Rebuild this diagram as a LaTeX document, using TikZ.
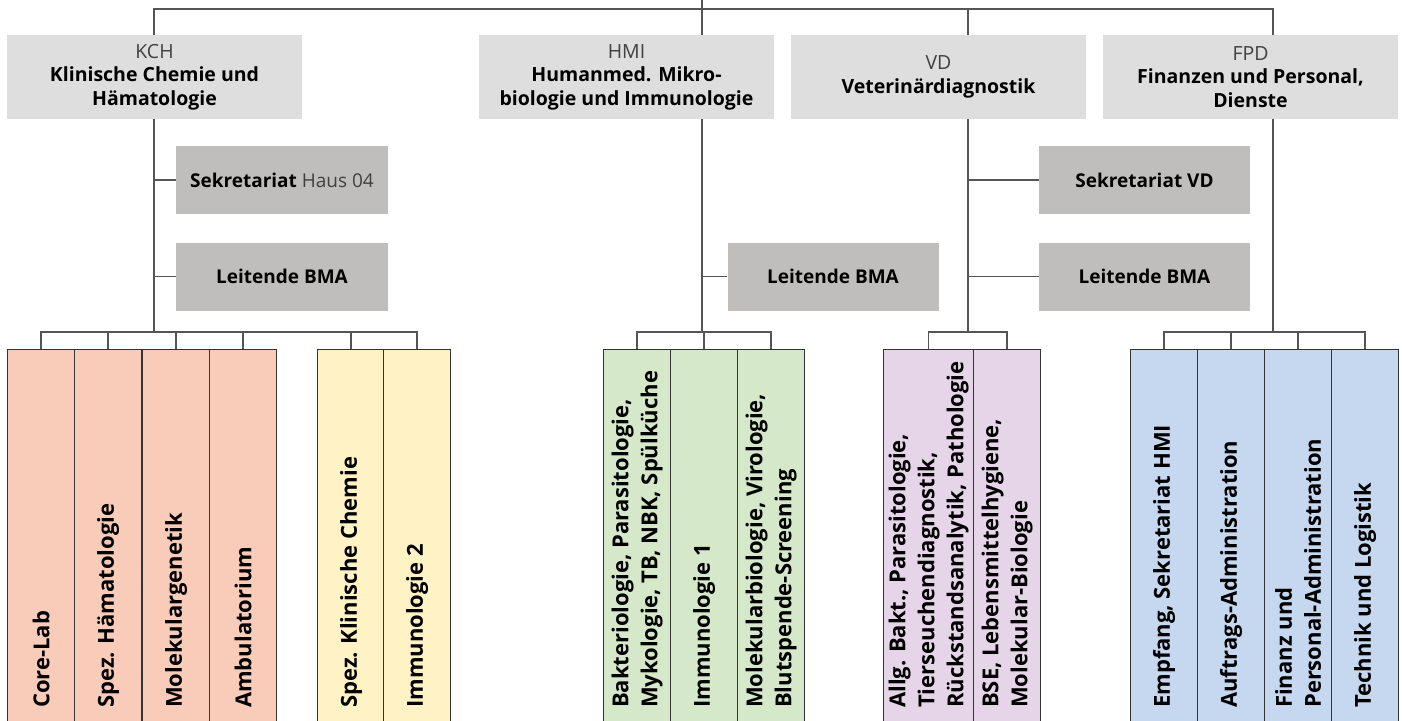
\documentclass[tikz,border=0pt]{standalone}
\usepackage{fontspec}
\setmainfont{Open Sans}
\usetikzlibrary{backgrounds}

\definecolor{headgray}{HTML}{DEDEDE}
\definecolor{staffgray}{HTML}{BFBEBC}
\definecolor{linegray}{HTML}{555555}
\definecolor{kchred}{HTML}{F9CCBA}
\definecolor{kchyellow}{HTML}{FFF2C5}
\definecolor{hmigreen}{HTML}{D5E8CA}
\definecolor{vdviolet}{HTML}{E6D5E8}
\definecolor{fpdblue}{HTML}{C5D8EF}

\tikzset{
    head/.style={fill=headgray, minimum width=295pt, minimum height=84pt, inner sep=0pt,
        align=center, font=\fontsize{19.5}{23.5}\selectfont},
    staff/.style={fill=staffgray, minimum width=212pt, minimum height=68pt, inner sep=0pt,
        font=\fontsize{19}{23}\selectfont},
    unit/.style={draw=black!80, line width=1.2pt, fill=#1, minimum width=67pt,
        minimum height=380pt, anchor=north west, inner sep=0pt},
    unitlabel/.style={rotate=90, anchor=west, align=left, inner sep=0pt,
        font=\bfseries\fontsize{22}{29}\selectfont},
    wire/.style={draw=linegray, line width=1.4pt},
}
\newcommand{\abbr}[1]{{\color{black!75}#1}}

\begin{document}
\begin{tikzpicture}[x=1pt, y=-1pt]
    \useasboundingbox (0,0) rectangle (1402,720);

    % Abteilungen
    \node[head] (kch) at (154.5,77) {\abbr{KCH}\\\textbf{Klinische Chemie und}\\\textbf{Hämatologie}};
    \node[head] (hmi) at (626.5,77) {\abbr{HMI}\\\textbf{Humanmed. Mikro-}\\\textbf{biologie und Immunologie}};
    \node[head] (vd)  at (938.5,77) {\abbr{VD}\\\textbf{Veterinärdiagnostik}};
    \node[head] (fpd) at (1250.5,77) {\abbr{FPD}\\\textbf{Finanzen und Personal,}\\\textbf{Dienste}};

    % Stabsstellen
    \node[staff] (kchsek) at (282,180) {\textbf{Sekretariat} \abbr{Haus 04}};
    \node[staff] (kchbma) at (282,276.5) {\textbf{Leitende BMA}};
    \node[staff, minimum width=211pt] (hmibma) at (833,276.5) {\textbf{Leitende BMA}};
    \node[staff, minimum width=211pt] (vdsek) at (1144.5,180) {\textbf{Sekretariat VD}};
    \node[staff, minimum width=211pt] (vdbma) at (1144.5,276.5) {\textbf{Leitende BMA}};

    % Bereiche
    \node[unit=kchred] (core)   at (7,349) {};
    \node[unit=kchred] (haem)   at (74,349) {};
    \node[unit=kchred] (molgen) at (142,349) {};
    \node[unit=kchred] (amb)    at (209,349) {};
    \node[unit=kchyellow] (spezkc) at (317,349) {};
    \node[unit=kchyellow] (immun2) at (383,349) {};
    \node[unit=hmigreen] (bakt)   at (603,349) {};
    \node[unit=hmigreen] (immun1) at (670,349) {};
    \node[unit=hmigreen] (molbio) at (737,349) {};
    \node[unit=vdviolet, minimum width=90pt] (allg) at (883,349) {};
    \node[unit=vdviolet] (bse) at (973,349) {};
    \node[unit=fpdblue] (empf)    at (1130,349) {};
    \node[unit=fpdblue] (auftr)   at (1197,349) {};
    \node[unit=fpdblue] (finanz)  at (1264,349) {};
    \node[unit=fpdblue] (technik) at (1331,349) {};

    \coordinate (base) at (0,708);
    \node[unitlabel] (core-t)    at (core |- base) {Core-Lab};
    \node[unitlabel] (haem-t)    at (haem |- base) {Spez. Hämatologie};
    \node[unitlabel] (molgen-t)  at (molgen |- base) {Molekulargenetik};
    \node[unitlabel] (amb-t)     at (amb |- base) {Ambulatorium};
    \node[unitlabel] (spezkc-t)  at (spezkc |- base) {Spez. Klinische Chemie};
    \node[unitlabel] (immun2-t)  at (immun2 |- base) {Immunologie 2};
    \node[unitlabel] (bakt-t)    at (bakt |- base) {Bakteriologie, Parasitologie,\\Mykologie, TB, NBK, Spülküche};
    \node[unitlabel] (immun1-t)  at (immun1 |- base) {Immunologie 1};
    \node[unitlabel] (molbio-t)  at (molbio |- base) {Molekularbiologie, Virologie,\\Blutspende-Screening};
    \node[unitlabel] (allg-t)    at (allg |- base) {Allg. Bakt., Parasitologie,\\Tierseuchendiagnostik,\\Rückstandsanalytik, Pathologie};
    \node[unitlabel] (bse-t)     at (bse |- base) {BSE, Lebensmittelhygiene,\\Molekular-Biologie};
    \node[unitlabel] (empf-t)    at (empf |- base) {Empfang, Sekretariat HMI};
    \node[unitlabel] (auftr-t)   at (auftr |- base) {Auftrags-Administration};
    \node[unitlabel] (finanz-t)  at (finanz |- base) {Finanz und\\Personal-Administration};
    \node[unitlabel] (technik-t) at (technik |- base) {Technik und Logistik};

    % Linien
    \coordinate (root) at (702,0);
    \coordinate (hub) at (702,9);
    \coordinate (kchbus) at (154,332);
    \coordinate (hmibus) at (702,332);
    \coordinate (vdbus) at (968,332);
    \coordinate (fpdbus) at (1273,332);

    \begin{scope}[on background layer]
    \draw[wire] (kchbus) -- (kchbus |- hub) -- (fpdbus |- hub) -- (fpdbus);
    \draw[wire] (root) -- (hmibus);
    \draw[wire] (vdbus |- hub) -- (vdbus);

    \draw[wire] (kchsek.west) -- (kchsek.west -| kchbus);
    \draw[wire] (kchbma.west) -- (kchbma.west -| kchbus);
    \draw[wire] (hmibma.west) -- (hmibma.west -| hmibus);
    \draw[wire] (vdsek.west) -- (vdsek.west -| vdbus);
    \draw[wire] (vdbma.west) -- (vdbma.west -| vdbus);

    \draw[wire] (core.north) -- ++(0,-17) -| (immun2.north);
    \draw[wire] (bakt.north) -- ++(0,-17) -| (molbio.north);
    \draw[wire] (allg.north) -- ++(0,-17) -| (bse.north);
    \draw[wire] (empf.north) -- ++(0,-17) -| (technik.north);
    \foreach \u in {haem, molgen, amb, spezkc, immun1, auftr, finanz}
        \draw[wire] (\u.north) -- ++(0,-17);
    \end{scope}
\end{tikzpicture}
\end{document}
